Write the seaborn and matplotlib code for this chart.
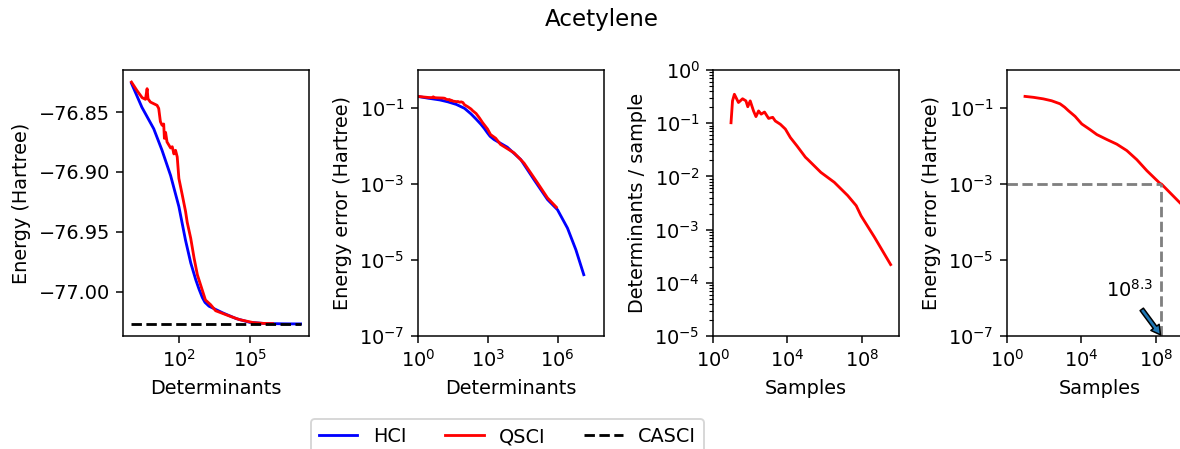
import numpy as np
import pandas as pd
import matplotlib
matplotlib.use("Agg")
import matplotlib.pyplot as plt
import seaborn as sns
from matplotlib.lines import Line2D

# ---------------- data ----------------
title = "Acetylene"
casci_energy = -77.027

# HCI: determinants vs energy error (Hartree)
hci_dets = [1, 2.75, 8.7, 19.5, 44.7, 100, 190, 316, 513, 708, 977, 1259,
            1862, 6918, 26300, 97700, 371500, 1.0e6, 2.69e6, 6.17e6, 1.35e7]
hci_err = [0.201, 0.181, 0.163, 0.145, 0.124, 0.098, 0.070, 0.051, 0.037,
           0.029, 0.022, 0.018, 0.0148, 0.0093, 0.0044, 0.0013, 3.9e-4,
           2.1e-4, 6.9e-5, 1.86e-5, 4.1e-6]

# QSCI: determinants vs energy error (Hartree)
qsci_dets = [1, 1.70, 2.82, 3.89, 4.57, 5.01, 6.31, 12.0, 14.1, 16.6, 19.5,
             22.9, 24.5, 27.5, 31.6, 44.7, 52.5, 61.7, 72.4, 85.1, 100, 138,
             191, 224, 316, 437, 603, 977, 1318, 2188, 3548, 13490, 36300,
             138000, 371500, 8.9e5]
qsci_err = [0.202, 0.195, 0.189, 0.1876, 0.1965, 0.188, 0.1853, 0.1826, 0.180,
            0.169, 0.166, 0.167, 0.155, 0.160, 0.152, 0.147, 0.148, 0.142,
            0.145, 0.1395, 0.1215, 0.108, 0.094, 0.085, 0.0715, 0.055, 0.041,
            0.028, 0.020, 0.016, 0.011, 0.0066, 0.00355, 0.00107, 4.3e-4,
            2.45e-4]

# QSCI sampling: samples vs determinants / sample
samp3 = [9.3, 11.2, 14.1, 23.4, 38.9, 58.9, 74.1, 100, 151, 204, 282, 389,
         589, 977, 1622, 2239, 4169, 7762, 14450, 33100, 93300, 1.2e5,
         6.3e5, 3.3e6, 1.74e7, 5.0e7, 9.1e7, 4.8e8, 3.55e9]
dps3 = [0.102, 0.263, 0.350, 0.245, 0.288, 0.263, 0.204, 0.263, 0.170,
        0.133, 0.170, 0.148, 0.162, 0.123, 0.129, 0.110, 0.0955, 0.0776,
        0.0537, 0.0372, 0.0229, 0.0211, 0.0119, 0.00776, 0.00437, 0.00282,
        0.00182, 7.2e-4, 2.2e-4]

# QSCI sampling: samples vs energy error
samp4 = [9.3, 26.3, 89.1, 251, 708, 1259, 2000, 4571, 10470, 29510, 67600,
         234400, 7.94e5, 2.75e6, 9.55e6, 3.31e7, 1.74e8, 2.0e8, 2.04e9,
         3.39e9]
err4 = [0.202, 0.191, 0.174, 0.155, 0.129, 0.105, 0.0851, 0.0603, 0.0380,
        0.0269, 0.0200, 0.0148, 0.0112, 0.00759, 0.00437, 0.00224, 0.00102,
        0.001, 3.16e-4, 2.51e-4]

threshold_err = 1e-3
threshold_samples = 10 ** 8.3
threshold_label = r"$10^{8.3}$"

series_names = ["HCI", "QSCI", "CASCI"]
xlabels = ["Determinants", "Determinants", "Samples", "Samples"]
ylabels = ["Energy (Hartree)", "Energy error (Hartree)",
           "Determinants / sample", "Energy error (Hartree)"]

# ---------------- figure ----------------
plt.rcParams["font.size"] = 10.3
DPI = 135
W, H = 1180, 449
fig = plt.figure(figsize=(W / DPI, H / DPI), dpi=DPI)

def add_ax(left_px):
    return fig.add_axes([left_px / W, (H - 336) / H, 186 / W, 266 / H])

ax1 = add_ax(123)
ax2 = add_ax(418)
ax3 = add_ax(713)
ax4 = add_ax(1007)

hci_df = pd.DataFrame({"x": hci_dets, "err": hci_err})
hci_df["E"] = casci_energy + hci_df["err"]
qsci_df = pd.DataFrame({"x": qsci_dets, "err": qsci_err})
qsci_df["E"] = casci_energy + qsci_df["err"]

# Panel 1
sns.lineplot(data=hci_df, x="x", y="E", ax=ax1, color="blue", legend=False)
sns.lineplot(data=qsci_df, x="x", y="E", ax=ax1, color="red", legend=False)
cas_df = pd.DataFrame({"x": [hci_dets[0], hci_dets[-1]],
                       "E": [casci_energy, casci_energy]})
sns.lineplot(data=cas_df, x="x", y="E", ax=ax1, color="black",
             linestyle="--", legend=False)
ax1.set_xscale("log")

# Panel 2
sns.lineplot(data=hci_df, x="x", y="err", ax=ax2, color="blue", legend=False)
sns.lineplot(data=qsci_df, x="x", y="err", ax=ax2, color="red", legend=False)
ax2.set_xscale("log")
ax2.set_yscale("log")
ax2.set_xlim(1, 1e8)
ax2.set_ylim(1e-7, 1)

# Panel 3
sns.lineplot(x=samp3, y=dps3, ax=ax3, color="red", legend=False)
ax3.set_xscale("log")
ax3.set_yscale("log")
ax3.set_xlim(1, 1e10)
ax3.set_ylim(1e-5, 1)

# Panel 4
sns.lineplot(x=samp4, y=err4, ax=ax4, color="red", legend=False)
ax4.set_xscale("log")
ax4.set_yscale("log")
ax4.set_xlim(1, 1e10)
ax4.set_ylim(1e-7, 1)
ax4.plot([1, threshold_samples], [threshold_err, threshold_err],
         linestyle="--", color="gray")
ax4.plot([threshold_samples, threshold_samples], [1e-7, threshold_err],
         linestyle="--", color="gray")
ax4.annotate("", xy=(threshold_samples, 1e-7),
             xytext=(10 ** 7.2, 10 ** -6.27),
             arrowprops=dict(facecolor="C0", edgecolor="black", width=2.2,
                             headwidth=5.5, headlength=5, shrink=0.04,
                             linewidth=0.8))
ax4.text(10 ** 6.57, 10 ** -5.78, threshold_label, ha="center", va="center")

for ax, xl, yl in zip([ax1, ax2, ax3, ax4], xlabels, ylabels):
    ax.set_xlabel(xl)
    ax.set_ylabel(yl)

fig.text(601.7 / W, 1 - 25.7 / H, title, ha="center", va="baseline",
         fontsize=12.3)

handles = [Line2D([], [], color="blue"), Line2D([], [], color="red"),
           Line2D([], [], color="black", linestyle="--")]
fig.legend(handles, series_names, loc="upper center", ncol=3,
           bbox_to_anchor=(507.5 / W, 1 - 419.3 / H), borderaxespad=0)

fig.savefig("out.png", dpi=DPI)
